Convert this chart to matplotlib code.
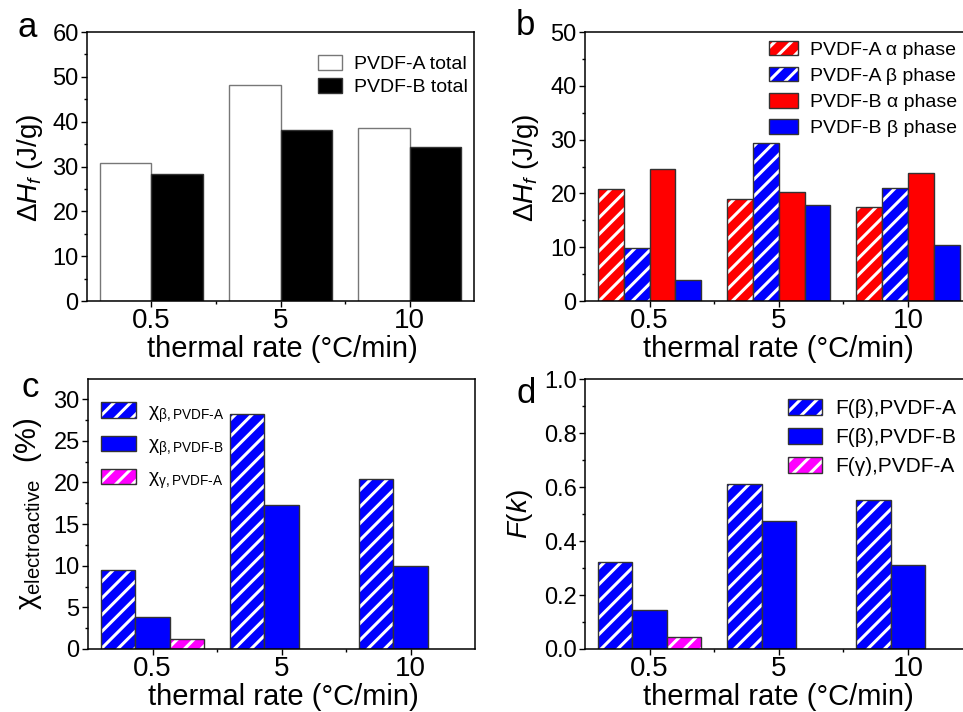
import numpy as np
import matplotlib
matplotlib.use('Agg')
import matplotlib.pyplot as plt
from matplotlib.ticker import MultipleLocator
from matplotlib.patches import Patch

plt.rcParams['font.family'] = ['Liberation Sans', 'DejaVu Sans']
plt.rcParams['mathtext.fontset'] = 'custom'
plt.rcParams['mathtext.rm'] = 'Liberation Sans'
plt.rcParams['mathtext.it'] = 'Liberation Sans:italic'
plt.rcParams['mathtext.bf'] = 'Liberation Sans:bold'
plt.rcParams['hatch.linewidth'] = 2.2

rates = ['0.5', '5', '10']

# panel a: total enthalpy of fusion (J/g)
a_total_A = [30.7, 48.1, 38.6]
a_total_B = [28.4, 38.2, 34.3]

# panel b: phase contributions (J/g)
b_A_alpha = [20.8, 18.9, 17.5]
b_A_beta = [9.8, 29.3, 21.1]
b_B_alpha = [24.5, 20.2, 23.8]
b_B_beta = [3.9, 17.9, 10.5]

# panel c: electroactive fraction (%)
c_beta_A = [9.5, 28.2, 20.4]
c_beta_B = [3.8, 17.3, 10.0]
c_gamma_A = [1.2, np.nan, np.nan]

# panel d: F(k)
d_beta_A = [0.322, 0.611, 0.552]
d_beta_B = [0.146, 0.473, 0.31]
d_gamma_A = [0.044, np.nan, np.nan]

BLUE = '#0000ff'
RED = '#ff0000'
MAG = '#ff00ff'
x = np.arange(len(rates))

fig = plt.figure(figsize=(9.63, 7.12), dpi=100)


def hatched_bar(ax, xpos, vals, width, color):
    ax.bar(xpos, vals, width, color=color, edgecolor='white', hatch='//', linewidth=0)
    ax.bar(xpos, vals, width, fill=False, edgecolor='#333333', linewidth=1.0)
    h = Patch(facecolor=color, edgecolor='white', hatch='//', linewidth=0)
    e = Patch(fill=False, edgecolor='#333333', linewidth=1.0)
    return (h, e)


def solid_bar(ax, xpos, vals, width, color, edge='#333333'):
    ax.bar(xpos, vals, width, color=color, edgecolor=edge, linewidth=1.0)
    return Patch(facecolor=color, edgecolor=edge, linewidth=1.0)


def style(ax, ymax, major, minor):
    ax.set_xlim(-0.5, 2.5)
    ax.set_ylim(0, ymax)
    ax.set_xticks(x)
    ax.set_xticklabels(rates)
    ax.set_xticks([0.5, 1.5], minor=True)
    ax.yaxis.set_major_locator(MultipleLocator(major))
    ax.yaxis.set_minor_locator(MultipleLocator(minor))
    ax.tick_params(axis='x', which='major', labelsize=20, length=4, width=1, pad=1)
    ax.tick_params(axis='y', which='major', labelsize=17, length=4, width=1, pad=2)
    ax.tick_params(which='minor', length=2.5, width=1)
    for s in ax.spines.values():
        s.set_linewidth(1.1)
    ax.set_xlabel('thermal rate (°C/min)', fontsize=21)


def legend(ax, handles, labels, anchor, size, hl, hh, sp):
    ax.legend(handles, labels, loc='upper left', bbox_to_anchor=anchor, frameon=False,
              fontsize=size, handlelength=hl, handleheight=hh, handletextpad=0.6,
              labelspacing=sp, borderpad=0, borderaxespad=0)


# ---- panel a
ax = fig.add_axes([0.0903, 0.5772, 0.402, 0.3778])
w = 0.4
pa = solid_bar(ax, x - w / 2, a_total_A, w, 'white', edge='#777777')
pb = solid_bar(ax, x + w / 2, a_total_B, w, 'black')
style(ax, 60, 10, 5)
ax.set_ylabel(r'$\Delta H_f$ (J/g)', fontsize=20)
legend(ax, [pa, pb], ['PVDF-A total', 'PVDF-B total'], (0.597, 0.915), 14, 1.25, 0.85, 0.22)
ax.xaxis.set_label_coords(0.504, -0.128)
ax.yaxis.set_label_coords(-0.108, 0.494)

# ---- panel b
ax = fig.add_axes([0.6075, 0.5772, 0.4024, 0.3778])
w = 0.2
h1 = hatched_bar(ax, x - 1.5 * w, b_A_alpha, w, RED)
h2 = hatched_bar(ax, x - 0.5 * w, b_A_beta, w, BLUE)
h3 = solid_bar(ax, x + 0.5 * w, b_B_alpha, w, RED)
h4 = solid_bar(ax, x + 1.5 * w, b_B_beta, w, BLUE)
style(ax, 50, 10, 5)
ax.set_ylabel(r'$\Delta H_f$ (J/g)', fontsize=20)
legend(ax, [h1, h2, h3, h4],
       ['PVDF-A α phase', 'PVDF-A β phase', 'PVDF-B α phase', 'PVDF-B β phase'],
       (0.475, 0.966), 14, 1.5, 0.75, 0.42)
ax.xaxis.set_label_coords(0.50, -0.128)
ax.yaxis.set_label_coords(-0.114, 0.494)

# ---- panel c
ax = fig.add_axes([0.0914, 0.0885, 0.402, 0.379])
w = 0.8 / 3
k1 = hatched_bar(ax, x - w, c_beta_A, w, BLUE)
k2 = solid_bar(ax, x, c_beta_B, w, BLUE)
k3 = hatched_bar(ax, x + w, c_gamma_A, w, MAG)
style(ax, 32.4, 5, 2.5)
ax.set_ylabel('χ' + r'$_{\mathrm{electroactive}}$  (%)', fontsize=21)
legend(ax, [k1, k2, k3],
       ['χ' + r'$_{\mathrm{β,PVDF\text{-}A}}$',
        'χ' + r'$_{\mathrm{β,PVDF\text{-}B}}$',
        'χ' + r'$_{\mathrm{γ,PVDF\text{-}A}}$'],
       (0.034, 0.914), 14, 1.8, 0.85, 0.55)
ax.xaxis.set_label_coords(0.504, -0.125)
ax.yaxis.set_label_coords(-0.114, 0.5)

# ---- panel d
ax = fig.add_axes([0.6075, 0.0885, 0.4024, 0.379])
m1 = hatched_bar(ax, x - w, d_beta_A, w, BLUE)
m2 = solid_bar(ax, x, d_beta_B, w, BLUE)
m3 = hatched_bar(ax, x + w, d_gamma_A, w, MAG)
style(ax, 1.0, 0.2, 0.1)
ax.set_ylabel(r'$F(k)$', fontsize=20)
legend(ax, [m1, m2, m3], ['F(β),PVDF-A', 'F(β),PVDF-B', 'F(γ),PVDF-A'],
       (0.524, 0.928), 15, 1.65, 0.8, 0.47)
ax.xaxis.set_label_coords(0.50, -0.125)
ax.yaxis.set_label_coords(-0.129, 0.5)

# panel letters
fig.text(0.018, 0.948, 'a', fontsize=25)
fig.text(0.536, 0.951, 'b', fontsize=25)
fig.text(0.022, 0.442, 'c', fontsize=25)
fig.text(0.536, 0.434, 'd', fontsize=25)

fig.savefig('out.png', dpi=100)
